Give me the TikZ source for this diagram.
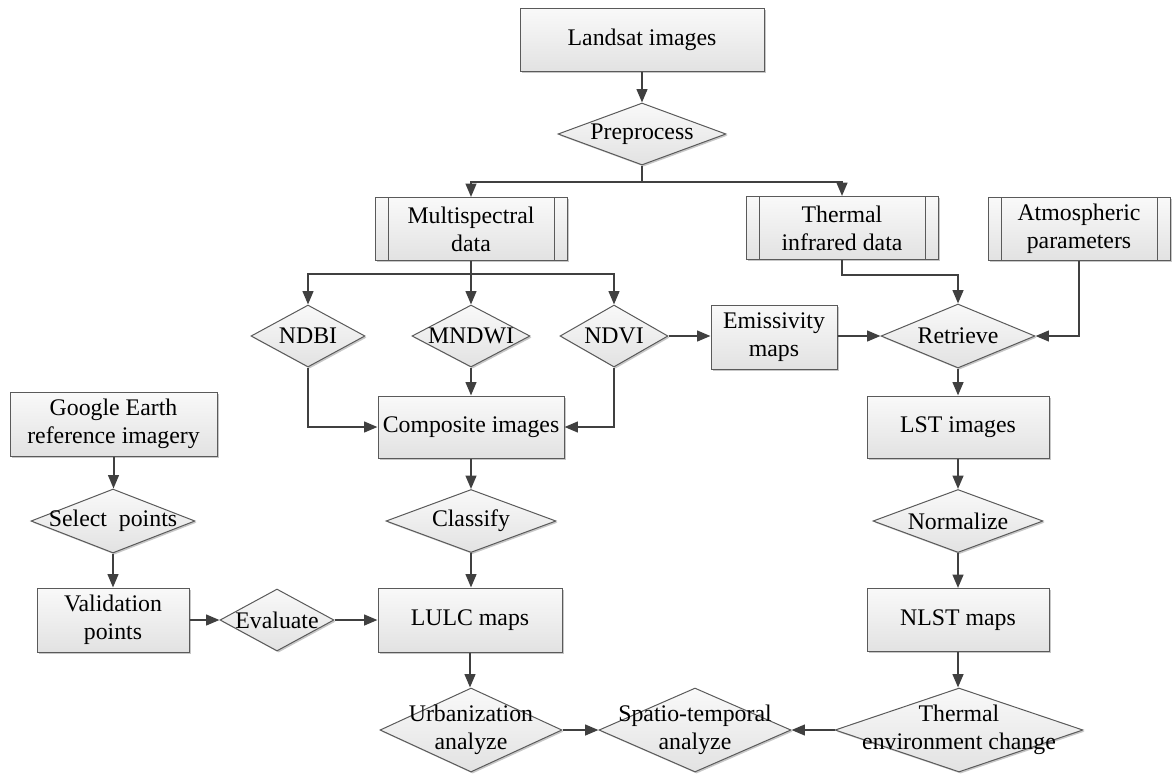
\documentclass[tikz,border=0pt]{standalone}
\usepackage{fontspec}
\setmainfont{Liberation Serif}
\usetikzlibrary{shapes.geometric,arrows.meta,shadows,calc}
\definecolor{linec}{HTML}{404040}
\definecolor{bordergray}{HTML}{5A5A5A}
\definecolor{boxtop}{HTML}{F9F9F9}
\definecolor{boxbot}{HTML}{E2E2E2}
\begin{document}
\begin{tikzpicture}[x=0.75pt,y=-0.75pt,
  txt/.style={font=\fontsize{17.85pt}{21pt}\selectfont, align=center, inner sep=0pt},
  shd/.style={drop shadow={shadow xshift=1.2pt, shadow yshift=-1.2pt, opacity=0.22, fill=black}},
  box/.style 2 args={draw=bordergray, line width=0.75pt, top color=boxtop, bottom color=boxbot,
     inner sep=0pt, minimum width=#1*0.75pt, minimum height=#2*0.75pt, shd,
     font=\fontsize{17.85pt}{21pt}\selectfont, align=center},
  pp/.style 2 args={box={#1}{#2}, path picture={
     \draw[draw=bordergray,line width=0.75pt]
       ([xshift=9.75pt]path picture bounding box.north west) -- ([xshift=9.75pt]path picture bounding box.south west)
       ([xshift=-9.75pt]path picture bounding box.north east) -- ([xshift=-9.75pt]path picture bounding box.south east);}},
  dia/.style 2 args={diamond, draw=bordergray, line width=0.75pt, top color=boxtop, bottom color=boxbot,
     inner sep=0pt, minimum width=#1*0.75pt, minimum height=#2*0.75pt, shd},
  conn/.style={draw=linec, line width=1.5pt, -{Triangle[length=10pt,width=8pt]}},
  plain/.style={draw=linec, line width=1.5pt}
]
\useasboundingbox (0,0) rectangle (1176,776);

% rectangles and predefined processes
\node[box={244}{63}] (land) at (642,40) {Landsat images};
\node[pp={192}{63}] (ms) at (471,229) {Multispectral\\data};
\node[pp={192}{63}] (tir) at (842,228) {Thermal\\infrared data};
\node[pp={182}{63}] (atm) at (1079,229) {Atmospheric\\parameters};
\node[box={126}{64}] (emis) at (774,337) {Emissivity\\maps};
\node[box={186}{62}] (comp) at (471,427) {Composite images};
\node[box={182}{62}] (lst) at (958,427) {LST images};
\node[box={207}{64}] (ge) at (113.5,424) {Google Earth\\reference imagery};
\node[box={152}{64}] (val) at (113,620) {Validation\\points};
\node[box={184}{64}] (lulc) at (470,620) {LULC maps};
\node[box={182}{63}] (nlst) at (958,620) {NLST maps};

% diamonds
\node[dia={168}{62}] (pre) at (642,134) {};
\node[dia={114}{62}] (ndbi) at (308,336) {};
\node[dia={118}{62}] (mndwi) at (471,336) {};
\node[dia={108}{62}] (ndvi) at (614,336) {};
\node[dia={154}{64}] (ret) at (958,336) {};
\node[dia={164}{64}] (sel) at (113,521) {};
\node[dia={170}{63}] (cls) at (471,521) {};
\node[dia={170}{63}] (norm) at (958,521) {};
\node[dia={114}{62}] (eval) at (277,620) {};
\node[dia={182}{84}] (urb) at (471,730) {};
\node[dia={192}{84}] (spt) at (695,730) {};
\node[dia={248}{84}] (thm) at (959,730) {};

% diamond texts
\node[txt] (pre-t) at (pre) {Preprocess};
\node[txt] (ndbi-t) at (ndbi) {NDBI};
\node[txt] (mndwi-t) at (mndwi) {MNDWI};
\node[txt] (ndvi-t) at (ndvi) {NDVI};
\node[txt] (ret-t) at (ret) {Retrieve};
\node[txt] (sel-t) at (sel) {Select~~points};
\node[txt] (cls-t) at (cls) {Classify};
\node[txt] (norm-t) at (norm) {Normalize};
\node[txt] (eval-t) at (eval) {Evaluate};
\node[txt] (urb-t) at (urb) {Urbanization\\analyze};
\node[txt] (spt-t) at (spt) {Spatio-temporal\\analyze};
\node[txt] (thm-t) at (thm) {Thermal\\environment change};

% junction coordinates
\coordinate (j1) at (642,182);
\coordinate (j2) at (471,274);

% connectors
\draw[conn] (land.south) -- (pre.north);
\draw[plain] (pre.south) -- (j1);
\draw[conn] (j1) -| (ms.north);
\draw[conn] (j1) -| (tir.north);
\draw[plain] (ms.south) -- (j2);
\draw[conn] (j2) -| (ndbi.north);
\draw[conn] (j2) -- (mndwi.north);
\draw[conn] (j2) -| (ndvi.north);
\draw[conn] (tir.south) -- ++(0,15) -| (ret.north);
\draw[conn] (atm.south) |- (ret.east);
\draw[conn] (ndvi.east) -- (emis.west |- ndvi.east);
\draw[conn] (emis.east |- ret.west) -- (ret.west);
\draw[conn] (ndbi.south) |- (comp.west);
\draw[conn] (ndvi.south) |- (comp.east);
\draw[conn] (mndwi.south) -- (comp.north);
\draw[conn] (ret.south) -- (lst.north);
\draw[conn] (comp.south) -- (cls.north);
\draw[conn] (cls.south) -- (lulc.north -| cls.south);
\draw[conn] (lst.south) -- (norm.north);
\draw[conn] (norm.south) -- (nlst.north);
\draw[conn] (ge.south) -- (sel.north -| ge.south);
\draw[conn] (sel.south) -- (val.north);
\draw[conn] (val.east) -- (eval.west);
\draw[conn] (eval.east) -- (lulc.west);
\draw[conn] (lulc.south) -- (urb.north -| lulc.south);
\draw[conn] (nlst.south) -- (thm.north -| nlst.south);
\draw[conn] (urb.east) -- (spt.west);
\draw[conn] (thm.west) -- (spt.east);
\end{tikzpicture}
\end{document}
